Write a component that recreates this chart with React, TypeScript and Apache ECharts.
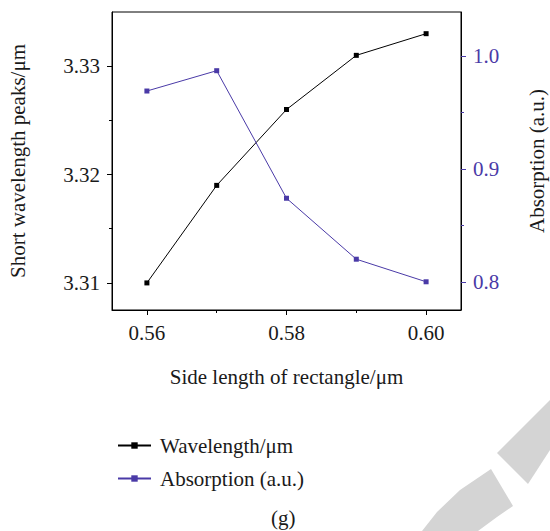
import React, { useEffect, useRef } from "react";
import * as echarts from "echarts";

const sideLengths = [0.56, 0.57, 0.58, 0.59, 0.6];
const wavelength = [3.31, 3.319, 3.326, 3.331, 3.333];
const absorption = [0.969, 0.987, 0.874, 0.82, 0.8];

const xMajor = [0.56, 0.58, 0.6];
const xMinor = [0.57, 0.59];
const leftMajor = [3.31, 3.32, 3.33];
const leftMinor = [3.315, 3.325];
const rightMajor = [0.8, 0.9, 1.0];
const rightMinor = [0.85, 0.95];

const FONT = "'Liberation Serif', 'Times New Roman', serif";
const TXT = "#1a1a1a";
const BLUE = "#4a3aa7";
const FS = 21;

export default function App() {
  const ref = useRef<HTMLDivElement>(null);
  useEffect(() => {
    if (!ref.current) return;
    const chart = echarts.init(ref.current, null, { renderer: "svg" });
    const X = { min: 0.555, max: 0.605 };
    const L = { min: 3.3075, max: 3.335 };
    const R = { min: 0.775, max: 1.039 };
    const hiddenAxis = (extra: any) => ({
      type: "value",
      axisLine: { show: false },
      axisLabel: { show: false },
      splitLine: { show: false },
      ...extra,
    });
    chart.setOption({
      animation: false,
      backgroundColor: "#ffffff",
      textStyle: { fontFamily: FONT },
      grid: {
        left: 112,
        top: 12,
        width: 349,
        height: 298,
        outerBoundsMode: "none",
        containLabel: false,
        show: true,
        borderColor: "#000",
        borderWidth: 1,
        backgroundColor: "transparent",
      },
      xAxis: [
        {
          type: "value",
          position: "bottom",
          ...X,
          name: "Side length of rectangle/μm",
          nameLocation: "middle",
          nameGap: 56,
          nameTextStyle: { fontFamily: FONT, fontSize: FS, color: TXT },
          axisLine: { show: true, lineStyle: { color: "#000", width: 1 } },
          axisTick: { show: true, customValues: xMajor, length: 5, lineStyle: { color: "#000" } },
          axisLabel: {
            customValues: xMajor,
            formatter: (v: number) => v.toFixed(2),
            fontFamily: FONT,
            fontSize: FS,
            color: TXT,
            margin: 12,
          },
          splitLine: { show: false },
        },
        hiddenAxis({
          position: "bottom",
          ...X,
          axisTick: { show: true, customValues: xMinor, length: 3, lineStyle: { color: "#000" } },
        }),
      ],
      yAxis: [
        {
          type: "value",
          position: "left",
          ...L,
          name: "Short wavelength peaks/μm",
          nameLocation: "middle",
          nameGap: 84,
          nameTextStyle: { fontFamily: FONT, fontSize: FS, color: TXT },
          axisLine: { show: true, lineStyle: { color: "#000", width: 1 } },
          axisTick: { show: true, customValues: leftMajor, length: 5, lineStyle: { color: "#000" } },
          axisLabel: {
            customValues: leftMajor,
            formatter: (v: number) => v.toFixed(2),
            fontFamily: FONT,
            fontSize: FS,
            color: TXT,
            margin: 12,
          },
          splitLine: { show: false },
        },
        {
          type: "value",
          position: "right",
          ...R,
          name: "Absorption (a.u.)",
          nameLocation: "middle",
          nameGap: 65,
          nameTextStyle: { fontFamily: FONT, fontSize: FS, color: TXT },
          axisLine: { show: true, lineStyle: { color: "#000", width: 1 } },
          axisTick: { show: true, customValues: rightMajor, length: 5, lineStyle: { color: BLUE } },
          axisLabel: {
            customValues: rightMajor,
            formatter: (v: number) => v.toFixed(1),
            fontFamily: FONT,
            fontSize: FS,
            color: BLUE,
            margin: 12,
          },
          splitLine: { show: false },
        },
        hiddenAxis({
          position: "left",
          ...L,
          axisTick: { show: true, customValues: leftMinor, length: 3, lineStyle: { color: "#000" } },
        }),
        hiddenAxis({
          position: "right",
          offset: 0,
          ...R,
          axisTick: { show: true, customValues: rightMinor, length: 3, lineStyle: { color: BLUE } },
        }),
      ],
      legend: {
        orient: "vertical",
        left: 112,
        top: 430,
        itemWidth: 33,
        itemHeight: 8,
        itemGap: 12,
        textStyle: { fontFamily: FONT, fontSize: FS, color: TXT, padding: [0, 0, 0, 4] },
        data: ["Wavelength/μm", "Absorption (a.u.)"],
      },
      graphic: [
        {
          type: "text",
          left: 271,
          top: 507,
          style: { text: "(g)", fontFamily: FONT, fontSize: FS, fill: TXT },
        },
        {
          type: "polygon",
          z: -1,
          shape: { points: [[497, 453], [550, 400], [550, 450], [528, 484]] },
          style: { fill: "#d4d4d4" },
        },
        {
          type: "polygon",
          z: -1,
          shape: {
            points: [
              [422, 531], [437, 512], [460, 490], [491, 469],
              [513, 506], [497, 517], [478, 531],
            ],
          },
          style: { fill: "#d4d4d4" },
        },
      ],
      series: [
        {
          name: "Wavelength/μm",
          type: "line",
          xAxisIndex: 0,
          yAxisIndex: 0,
          data: sideLengths.map((x, i) => [x, wavelength[i]]),
          symbol: "rect",
          symbolSize: 5,
          lineStyle: { color: "#000", width: 1 },
          itemStyle: { color: "#000" },
        },
        {
          name: "Absorption (a.u.)",
          type: "line",
          xAxisIndex: 0,
          yAxisIndex: 1,
          data: sideLengths.map((x, i) => [x, absorption[i]]),
          symbol: "rect",
          symbolSize: 5,
          lineStyle: { color: BLUE, width: 1 },
          itemStyle: { color: BLUE },
        },
      ],
    });
    return () => chart.dispose();
  }, []);
  return (
    <div
      ref={ref}
      style={{ position: "fixed", left: 0, top: 0, width: 550, height: 531, background: "#fff" }}
    />
  );
}
